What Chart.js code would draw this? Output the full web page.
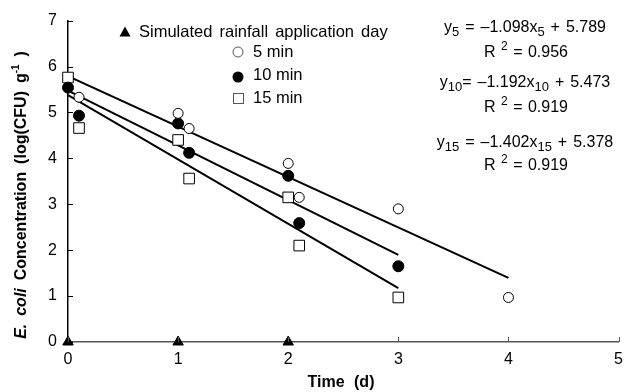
<!DOCTYPE html>
<html><head><meta charset="utf-8">
<script src="https://cdn.jsdelivr.net/npm/chart.js@4"></script>
<style>html,body{margin:0;padding:0;background:#fff}#wrap{width:631px;height:392px}</style>
</head><body><div id="wrap"><canvas id="c"></canvas></div>
<script>
// ---- data ----
const rainDays = [0, 1, 2];
const rainLevel = [0, 0, 0];
const x5 = [0.1, 1.0, 1.1, 2.0, 2.1, 3.0, 4.0];
const y5 = [5.33, 4.98, 4.65, 3.89, 3.15, 2.90, 0.97];
const x10 = [0.0, 0.1, 1.0, 1.1, 2.0, 2.1, 3.0];
const y10 = [5.54, 4.93, 4.76, 4.12, 3.62, 2.59, 1.65];
const x15 = [0.0, 0.1, 1.0, 1.1, 2.0, 2.1, 3.0];
const y15 = [5.76, 4.66, 4.40, 3.56, 3.15, 2.10, 0.97];
// regression line end points (from equations in the figure)
const fit5X = [0, 4], fit5Y = [5.789, 1.397];
const fit10X = [0, 3], fit10Y = [5.473, 1.897];
const fit15X = [0, 3], fit15Y = [5.378, 1.172];
const xTicks = [0, 1, 2, 3, 4, 5];
const yTicks = [0, 1, 2, 3, 4, 5, 6, 7];
const legendLabels = ['Simulated rainfall application day', '5 min', '10 min', '15 min'];
const eqs = [
  {y: 'y', sub: '5', m: ' = \u20131.098x', sub2: '5', b: ' + 5.789', r2: '0.956'},
  {y: 'y', sub: '10', m: '= \u20131.192x', sub2: '10', b: ' + 5.473', r2: '0.919'},
  {y: 'y', sub: '15', m: ' = \u20131.402x', sub2: '15', b: ' + 5.378', r2: '0.919'}
];

const pts = (xs, ys) => xs.map((x, i) => ({x, y: ys[i]}));
const FF = '"Liberation Sans", Arial, Helvetica, sans-serif';

function runWidth(ctx, t, ws) {
  const n = (t.match(/ /g) || []).length;
  return ctx.measureText(t).width + n * ws;
}
function drawText(ctx, t, x, y, ws) {
  const parts = t.split(' ');
  parts.forEach((p, i) => {
    if (p) ctx.fillText(p, x, y);
    x += ctx.measureText(p).width;
    if (i < parts.length - 1) x += ctx.measureText(' ').width + ws;
  });
}
function drawRuns(ctx, runs, cx, cy, ws, align) {
  ws = ws || 0;
  let w = 0;
  runs.forEach(r => { ctx.font = r.font; r.w = runWidth(ctx, r.t, ws); w += r.w; });
  let x = align === 'left' ? cx : cx - w / 2;
  ctx.textBaseline = 'middle'; ctx.textAlign = 'left';
  runs.forEach(r => { ctx.font = r.font; drawText(ctx, r.t, x, cy + (r.dy || 0), ws); x += r.w; });
}

const deco = {
  id: 'deco',
  afterDraw(chart) {
    const ctx = chart.ctx, xs = chart.scales.x, ys = chart.scales.y;
    ctx.save();
    ctx.strokeStyle = '#000'; ctx.lineWidth = 1;
    // inward ticks
    yTicks.forEach(v => { const p = Math.round(ys.getPixelForValue(v)) + 0.5; ctx.beginPath(); ctx.moveTo(xs.left, p); ctx.lineTo(xs.left + 5, p); ctx.stroke(); });
    ctx.strokeStyle = '#555';
    xTicks.forEach(v => { const p = Math.round(xs.getPixelForValue(v)) + 0.5; ctx.beginPath(); ctx.moveTo(p, ys.bottom); ctx.lineTo(p, ys.bottom - 5); ctx.stroke(); });
    ctx.fillStyle = '#000';
    // axis titles
    drawRuns(ctx, [{t: 'Time (d)', font: 'bold 16px ' + FF}], 341, 383, 5);
    ctx.save();
    ctx.translate(22, 195); ctx.rotate(-Math.PI / 2);
    drawRuns(ctx, [
      {t: 'E. coli', font: 'italic bold 16px ' + FF},
      {t: ' Concentration (log(CFU) g', font: 'bold 16px ' + FF},
      {t: '-1', font: 'bold 10px ' + FF, dy: -6},
      {t: ' )', font: 'bold 16px ' + FF}
    ], 0, 0, 3.5);
    ctx.restore();
    // legend
    const fL = '16.5px ' + FF;
    ctx.textBaseline = 'middle'; ctx.textAlign = 'left';
    // triangle
    ctx.beginPath(); ctx.moveTo(125, 26.5); ctx.lineTo(130.5, 36.5); ctx.lineTo(119.5, 36.5); ctx.closePath(); ctx.fill();
    drawRuns(ctx, [{t: legendLabels[0], font: fL}], 139, 32, 2.5, 'left');
    ctx.lineWidth = 1;
    ctx.beginPath(); ctx.arc(238, 52, 5, 0, Math.PI * 2); ctx.fillStyle = '#fff'; ctx.fill(); ctx.stroke();
    ctx.fillStyle = '#000';
    drawRuns(ctx, [{t: legendLabels[1], font: fL}], 253, 52, 0, 'left');
    ctx.beginPath(); ctx.arc(238, 77, 5.5, 0, Math.PI * 2); ctx.fill();
    drawRuns(ctx, [{t: legendLabels[2], font: fL}], 253, 75, 0, 'left');
    ctx.strokeRect(233.5, 93.5, 10, 10);
    drawRuns(ctx, [{t: legendLabels[3], font: fL}], 253, 98, 0, 'left');
    // equations
    const fE = '16px ' + FF;
    const ys0 = [28, 83, 143], rs0 = [53, 108, 166];
    eqs.forEach((e, i) => {
      const subF = '13px ' + FF;
      drawRuns(ctx, [
        {t: e.y, font: fE}, {t: e.sub, font: subF, dy: 4},
        {t: e.m, font: fE}, {t: e.sub2, font: subF, dy: 4},
        {t: e.b, font: fE}
      ], 525, ys0[i], 1.5);
      drawRuns(ctx, [
        {t: 'R ', font: fE}, {t: '2', font: '12px ' + FF, dy: -6},
        {t: ' = ' + e.r2, font: fE}
      ], 526, rs0[i], 1);
    });
    ctx.restore();
  }
};

const ptBase = {showLine: false, clip: false, borderColor: '#000', borderWidth: 1};
new Chart(document.getElementById('c'), {
  type: 'scatter',
  data: {
    datasets: [
      Object.assign({}, ptBase, {label: legendLabels[0], data: pts(rainDays, rainLevel), pointStyle: 'triangle', pointRadius: 6, backgroundColor: '#000'}),
      Object.assign({}, ptBase, {label: legendLabels[1], data: pts(x5, y5), pointStyle: 'circle', pointRadius: 5, backgroundColor: '#fff'}),
      Object.assign({}, ptBase, {label: legendLabels[2], data: pts(x10, y10), pointStyle: 'circle', pointRadius: 5.5, backgroundColor: '#000'}),
      Object.assign({}, ptBase, {label: legendLabels[3], data: pts(x15, y15), pointStyle: 'rect', pointRadius: 7.5, backgroundColor: '#fff'}),
      {type: 'line', label: 'fit5', data: pts(fit5X, fit5Y), borderColor: '#000', borderWidth: 2, pointRadius: 0, fill: false},
      {type: 'line', label: 'fit10', data: pts(fit10X, fit10Y), borderColor: '#000', borderWidth: 2, pointRadius: 0, fill: false},
      {type: 'line', label: 'fit15', data: pts(fit15X, fit15Y), borderColor: '#000', borderWidth: 2, pointRadius: 0, fill: false}
    ]
  },
  options: {
    responsive: true, maintainAspectRatio: false, animation: false,
    layout: {padding: {left: 0, top: 20, right: 11, bottom: 0}},
    plugins: {legend: {display: false}, tooltip: {enabled: false}},
    scales: {
      x: {
        type: 'linear', min: 0, max: 5,
        afterFit: s => { s.height = 50; },
        afterBuildTicks: s => { s.ticks = xTicks.map(v => ({value: v})); },
        grid: {display: false, drawTicks: false},
        border: {display: true, color: '#555', width: 1.5},
        ticks: {color: '#000', font: {family: FF, size: 16}, padding: 8, maxRotation: 0}
      },
      y: {
        min: 0, max: 7,
        afterFit: s => { s.width = 68; },
        afterBuildTicks: s => { s.ticks = yTicks.map(v => ({value: v})); },
        grid: {display: false, drawTicks: false},
        border: {display: true, color: '#000', width: 1.5},
        ticks: {color: '#000', font: {family: FF, size: 16}, padding: 11}
      }
    }
  },
  plugins: [deco]
});
</script></body></html>
